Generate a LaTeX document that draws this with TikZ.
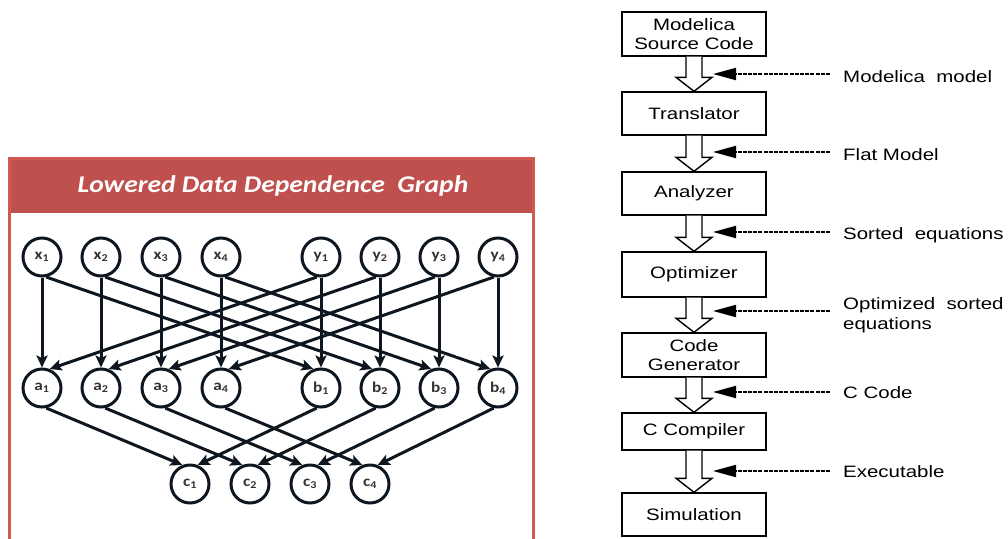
\documentclass[tikz,border=0pt]{standalone}
\usepackage{fontspec}
\usetikzlibrary{arrows.meta,calc}
\newfontfamily\arialw[FakeStretch=1.24]{Liberation Sans}
\newfontfamily\carl[FakeStretch=1.15]{Carlito}
\definecolor{hdr}{HTML}{C0504D}
\definecolor{frm}{HTML}{D05A52}
\definecolor{ink}{HTML}{0E1620}
\definecolor{lbl}{HTML}{333333}
\tikzset{
  gnode/.style={circle,draw=ink,line width=3pt,minimum size=38pt,inner sep=0pt,
    font=\carl\fontsize{15}{15}\selectfont\bfseries,text=lbl},
  edge/.style={draw=ink,line width=3pt,-{Stealth[length=12pt,width=11pt,inset=2.5pt]}},
  fbox/.style={draw,line width=1.4pt,minimum width=144pt,align=center,inner sep=0pt,
    font=\arialw\fontsize{16.5}{19}\selectfont},
  hollow/.style={draw,fill=white,line width=1.4pt,line join=miter},
  dasharrow/.style={draw,line width=2pt,dash pattern=on 4pt off 1.2pt,
    -{Triangle[length=23pt,width=12pt]}},
  flab/.style={anchor=west,align=left,inner sep=0pt,font=\arialw\fontsize{16.5}{20}\selectfont}
}
\begin{document}
\begin{tikzpicture}[x=1pt,y=-1pt]
\useasboundingbox (0,0) rectangle (1008,538);
% ---------- left panel ----------
\fill[hdr] (8,157) rectangle (534.5,213);
\draw[frm,line width=3pt] (9.5,540) -- (9.5,158.5) -- (533,158.5) -- (533,540);
\node[font=\carl\fontsize{24}{26}\selectfont\bfseries\itshape,text=white] (title) at (273,186)
  {Lowered Data Dependence\ \ Graph};
\foreach \i/\xx in {1/42,2/101,3/161,4/221} {
  \node[gnode] (x\i) at (\xx,257) {x\textsubscript{\i}};
  \node[gnode] (a\i) at (\xx,388) {a\textsubscript{\i}};
}
\foreach \i/\xx in {1/321,2/380,3/439,4/498} {
  \node[gnode] (y\i) at (\xx,257) {y\textsubscript{\i}};
  \node[gnode] (b\i) at (\xx,388) {b\textsubscript{\i}};
}
\foreach \i/\xx in {1/190,2/250,3/310,4/370} {
  \node[gnode] (c\i) at (\xx,484) {c\textsubscript{\i}};
}
\foreach \i in {1,...,4} {
  \draw[edge] (x\i) -- (a\i);
  \draw[edge] (y\i) -- (b\i);
  \draw[edge] (x\i.-78) -- (b\i.112);
  \draw[edge] (y\i.-102) -- (a\i.68);
  \draw[edge] (a\i.-78) -- (c\i.112);
  \draw[edge] (b\i.-102) -- (c\i.68);
}
% ---------- right panel ----------
\node[fbox,minimum height=44pt] (m1) at (694,34) {Modelica\\Source Code};
\node[fbox,minimum height=43pt] (m2) at (694,113.5) {Translator};
\node[fbox,minimum height=43pt] (m3) at (694,193.5) {Analyzer};
\node[fbox,minimum height=45pt] (m4) at (694,274.5) {Optimizer};
\node[fbox,minimum height=44pt] (m5) at (694,355) {Code\\Generator};
\node[fbox,minimum height=37pt] (m6) at (694,431.5) {C Compiler};
\node[fbox,minimum height=43pt] (m7) at (694,514.5) {Simulation};
\foreach \p/\q in {m1/m2,m2/m3,m3/m4,m4/m5,m5/m6,m6/m7} {
  \draw[hollow] ($(\p.south)+(-8,0)$) -- ($(\q.north)+(-8,-14)$) -- ($(\q.north)+(-18,-14)$)
    -- (\q.north) -- ($(\q.north)+(18,-14)$) -- ($(\q.north)+(8,-14)$) -- ($(\p.south)+(8,0)$);
}
\foreach \k/\yy in {1/74,2/152,3/232,4/311,5/392,6/471} {
  \coordinate (s\k) at (830,\yy);
  \coordinate (t\k) at (713,\yy);
  \draw[dasharrow] (s\k) -- (t\k);
}
\node[flab] (l1) at (843,77) {Modelica\ \ model};
\node[flab] (l2) at (843,155) {Flat Model};
\node[flab] (l3) at (843,235) {Sorted\ \ equations};
\node[flab] (l4) at (843,315) {Optimized\ \ sorted\\equations};
\node[flab] (l5) at (843,393) {C Code};
\node[flab] (l6) at (843,472) {Executable};
\end{tikzpicture}
\end{document}
